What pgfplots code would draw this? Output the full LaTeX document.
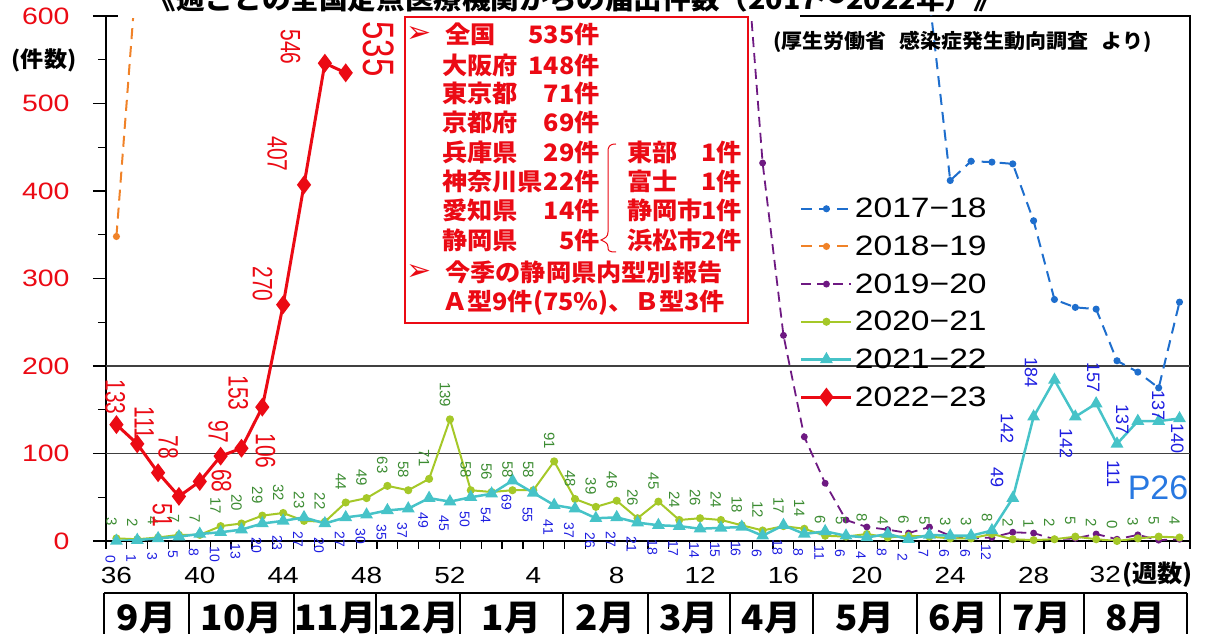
\documentclass[border=0pt]{standalone}
\usepackage{fontspec}
\usepackage{pgfplots}
\pgfplotsset{compat=1.18}
\setmainfont{Liberation Sans}[FakeStretch=1.2]
\newfontfamily\labfont{Liberation Sans}
\newfontfamily\narrowfont{Liberation Sans}[FakeStretch=0.75]
\newfontfamily\jp{Noto Sans CJK JP}[FakeStretch=1.05]
\newfontfamily\jpw{Noto Sans CJK JP}[FakeStretch=1.1]
\newfontfamily\dv{DejaVu Sans}
\newcommand\fs[1]{\fontsize{#1}{#1}\selectfont}
\definecolor{cRed}{RGB}{235,10,20}
\definecolor{cCyan}{RGB}{70,195,200}
\definecolor{cGreen}{RGB}{165,200,40}
\definecolor{cPurple}{RGB}{110,25,130}
\definecolor{cOrange}{RGB}{240,130,40}
\definecolor{cBlue}{RGB}{30,110,205}
\definecolor{lblBlue}{RGB}{30,30,225}
\definecolor{lblGreen}{RGB}{60,140,50}
\definecolor{pBlue}{RGB}{40,120,225}
\tikzset{
  blab/.style={font=\labfont\fs{14}, text=lblBlue, inner sep=0pt, xshift=-6pt, yshift=-14pt, rotate=-90, anchor=west},
  glab/.style={font=\labfont\fs{15}, text=lblGreen, inner sep=0pt, xshift=-5pt, yshift=12pt, rotate=-90, anchor=east},
  rlab/.style={font=\narrowfont\fs{28}, text=cRed, inner sep=0pt, rotate=-90},
  slab/.style={font=\labfont\fs{18}, text=lblBlue, inner sep=0pt, rotate=-90},
  boxt/.style={font=\jp\bfseries\fs{24}, text=cRed, inner sep=0pt},
}
\newcommand\BL[2]{\node[blab] at (axis cs:#1,#2) {#2};}
\newcommand\GL[2]{\node[glab] at (axis cs:#1,#2) {#2};}
\begin{document}
\begin{tikzpicture}
\begin{axis}[
  at={(106pt,93pt)}, anchor=south west,
  scale only axis, width=1084pt, height=525pt,
  xmin=-0.5, xmax=51.5, ymin=0, ymax=600,
  clip mode=individual,
  /pgf/number format/assume math mode=true,
  axis line style={black, line width=1.3pt},
  tick pos=left, tick align=outside,
  xtick={0,4,...,44},
  xticklabels={36,40,44,48,52,4,8,12,16,20,24,28},
  minor xtick={-0.5,0.5,...,51.5},
  major x tick style={draw=none},
  ytick={0,100,...,600},
  minor ytick={50,150,...,550},
  major tick length=13pt, minor tick length=8pt,
  tick style={black, line width=1.2pt},
  xticklabel style={font=\fs{23.3}, text=black, yshift=-10pt},
  yticklabel style={font=\fs{23.7}, text=cRed, xshift=-20pt},
  legend cell align=left,
  legend style={at={(rel axis cs:0.64,0.657)}, anchor=north west, draw=none, fill=none,
    font=\fs{28}, row sep=12.6pt, inner sep=0pt,
    /tikz/every even column/.append style={column sep=15pt}},
  legend image code/.code={\draw[mark repeat=2,mark phase=2] plot coordinates {(0pt,0pt) (25pt,0pt) (50pt,0pt)};},
]
\draw[black!75, line width=1.3pt] (axis cs:-0.5,100) -- (axis cs:51.5,100);
\draw[black!75, line width=1.3pt] (axis cs:-0.5,200) -- (axis cs:51.5,200);

% 2017-18
\addplot[cBlue, line width=2pt, dash pattern=on 11pt off 7pt, mark=*, mark size=2.5pt, mark options={solid}]
  coordinates {(38,900)(39,620)(40,412)(41,434)(42,433)(43,431)(44,366)(45,276)(46,267)(47,265)(48,206)(49,193)(50,175)(51,273)};
\addlegendentry{2017−18}
% 2018-19
\addplot[cOrange, line width=2pt, dash pattern=on 11pt off 7pt, mark=*, mark size=2.5pt, mark options={solid}]
  coordinates {(0,348)(1,660)};
\addlegendentry{2018−19}
% 2019-20
\addplot[cPurple, line width=1.8pt, dash pattern=on 10pt off 6pt, mark=*, mark size=2.5pt, mark options={solid}]
  coordinates {(30,740)(31,432)(32,235)(33,119)(34,66)(35,24)(36,16)(37,13)(38,9)(39,16)(40,6)(41,3)(42,4)(43,10)(44,9)(45,2)(46,3)(47,8)(48,2)(49,7)(50,1)(51,2)};
\addlegendentry{2019−20}
% 2020-21
\addplot[cGreen, line width=2pt, mark=*, mark size=3pt]
  coordinates {(0,3)(1,2)(2,4)(3,7)(4,7)(5,17)(6,20)(7,29)(8,32)(9,23)(10,22)(11,44)(12,49)(13,63)(14,58)(15,71)(16,139)
  (17,58)(18,56)(19,58)(20,58)(21,91)(22,48)(23,39)(24,46)(25,26)(26,45)(27,24)(28,26)(29,24)(30,18)(31,12)(32,17)(33,14)(34,6)
  (35,5)(36,8)(37,4)(38,6)(39,5)(40,3)(41,3)(42,8)(43,2)(44,1)(45,2)(46,5)(47,2)(48,0)(49,3)(50,5)(51,4)};
\addlegendentry{2020−21}
% 2021-22
\addplot[cCyan, line width=2.5pt, mark=triangle*, mark size=5pt]
  coordinates {(0,0)(1,1)(2,3)(3,5)(4,8)(5,10)(6,13)(7,20)(8,23)(9,27)(10,20)(11,27)(12,30)(13,35)(14,37)(15,49)(16,45)
  (17,50)(18,54)(19,69)(20,55)(21,41)(22,37)(23,26)(24,27)(25,21)(26,18)(27,17)(28,14)(29,15)(30,16)(31,6)(32,18)(33,8)(34,11)
  (35,6)(36,4)(37,8)(38,2)(39,7)(40,6)(41,6)(42,12)(43,49)(44,142)(45,184)(46,142)(47,157)(48,111)(49,137)(50,137)(51,140)};
\addlegendentry{2021−22}
% 2022-23
\addplot[cRed, line width=3pt, mark=diamond*, mark size=7pt]
  coordinates {(0,133)(1,111)(2,78)(3,51)(4,68)(5,97)(6,106)(7,153)(8,270)(9,407)(10,546)(11,535)};
\addlegendentry{2022−23}

% green labels (2020-21)
\GL{0}{3}\GL{1}{2}\GL{2}{4}\GL{3}{7}\GL{4}{7}\GL{5}{17}\GL{6}{20}\GL{7}{29}\GL{8}{32}\GL{9}{23}\GL{10}{22}\GL{11}{44}\GL{12}{49}\GL{13}{63}\GL{14}{58}\GL{15}{71}\GL{16}{139}
\GL{17}{58}\GL{18}{56}\GL{19}{58}\GL{20}{58}\GL{21}{91}\GL{22}{48}\GL{23}{39}\GL{24}{46}\GL{25}{26}\GL{26}{45}\GL{27}{24}\GL{28}{26}\GL{29}{24}\GL{30}{18}\GL{31}{12}\GL{32}{17}\GL{33}{14}\GL{34}{6}
\GL{35}{5}\GL{36}{8}\GL{37}{4}\GL{38}{6}\GL{39}{5}\GL{40}{3}\GL{41}{3}\GL{42}{8}\GL{43}{2}\GL{44}{1}\GL{45}{2}\GL{46}{5}\GL{47}{2}\GL{48}{0}\GL{49}{3}\GL{50}{5}\GL{51}{4}
% blue labels (2021-22)
\BL{0}{0}\BL{1}{1}\BL{2}{3}\BL{3}{5}\BL{4}{8}\BL{5}{10}\BL{6}{13}\BL{7}{20}\BL{8}{23}\BL{9}{27}\BL{10}{20}\BL{11}{27}\BL{12}{30}\BL{13}{35}\BL{14}{37}\BL{15}{49}\BL{16}{45}
\BL{17}{50}\BL{18}{54}\BL{19}{69}\BL{20}{55}\BL{21}{41}\BL{22}{37}\BL{23}{26}\BL{24}{27}\BL{25}{21}\BL{26}{18}\BL{27}{17}\BL{28}{14}\BL{29}{15}\BL{30}{16}\BL{31}{6}\BL{32}{18}\BL{33}{8}\BL{34}{11}
\BL{35}{6}\BL{36}{4}\BL{37}{8}\BL{38}{2}\BL{39}{7}\BL{40}{6}\BL{41}{6}\BL{42}{12}
\node[slab] at (axis cs:42.25,73.1) {49};
\node[slab] at (axis cs:42.73,129.1) {142};
\node[slab] at (axis cs:43.88,193.1) {184};
\node[slab] at (axis cs:45.56,110.9) {142};
\node[slab] at (axis cs:46.86,186.3) {157};
\node[slab] at (axis cs:47.82,76.6) {111};
\node[slab] at (axis cs:48.25,138.3) {137};
\node[slab] at (axis cs:49.98,155.4) {137};
\node[slab] at (axis cs:50.89,116.6) {140};
% red labels (2022-23)
\node[rlab] at (axis cs:-0.05,164.6) {133};
\node[rlab] at (axis cs:1.34,134.9) {111};
\node[rlab] at (axis cs:2.49,107.4) {78};
\node[rlab] at (axis cs:2.21,29.7) {51};
\node[rlab] at (axis cs:5.04,68.6) {68};
\node[rlab] at (axis cs:4.89,124.6) {97};
\node[rlab] at (axis cs:7.15,102.9) {106};
\node[rlab] at (axis cs:5.85,169.1) {153};
\node[rlab] at (axis cs:7.01,293.7) {270};
\node[rlab] at (axis cs:7.72,442.3) {407};
\node[rlab] at (axis cs:8.35,564.6) {546};
\node[rlab, font=\narrowfont\fs{44}] at (axis cs:12.57,562.3) {535};
\end{axis}

\begin{scope}[x=1pt, y=-1pt, yshift=634pt]
  % hide top frame behind title
  \fill[white] (118,12.5) rectangle (800,18.5);
  \node[font=\jpw\bfseries\fs{26}, anchor=base, inner sep=0pt] at (575,10) {《週ごとの全国定点医療機関からの届出件数（2017～2022年）》};
  \node[font=\jp\bfseries\fs{22}, anchor=base, inner sep=0pt] at (44,68) {(件数)};
  \node[font=\jp\bfseries\fs{20}, anchor=base west, inner sep=0pt] at (773,49) {(厚生労働省\hspace{13pt}感染症発生動向調査\hspace{13pt}より)};
  \node[font=\labfont\fs{34}, text=pBlue, inner sep=0pt] at (1158,488) {P26};
  % week 32 label with unit
  \node[font=\fs{23.3}, anchor=base east, inner sep=0pt] at (1121,583) {32};
  \node[font=\jp\bfseries\fs{24}, anchor=base west, inner sep=0pt] at (1122,583) {(週数)};
  % info box
  \draw[cRed, line width=1.2pt, fill=white] (405,17) rectangle (748,323);
  \node[font=\dv\fs{30}, text=cRed, anchor=west, inner sep=0pt] at (406,35) {➢};
  \node[font=\dv\fs{30}, text=cRed, anchor=west, inner sep=0pt] at (406,273) {➢};
  \node[boxt, anchor=base west] at (445,44) {全国};
  \node[boxt, anchor=base west] at (442,74.5) {大阪府};
  \node[boxt, anchor=base west] at (442,103) {東京都};
  \node[boxt, anchor=base west] at (442,132) {京都府};
  \node[boxt, anchor=base west] at (442,161.5) {兵庫県};
  \node[boxt, anchor=base west] at (442,191) {神奈川県};
  \node[boxt, anchor=base west] at (442,220) {愛知県};
  \node[boxt, anchor=base west] at (442,250) {静岡県};
  \node[boxt, anchor=base east] at (600,44) {535件};
  \node[boxt, anchor=base east] at (600,74.5) {148件};
  \node[boxt, anchor=base east] at (600,103) {71件};
  \node[boxt, anchor=base east] at (600,132) {69件};
  \node[boxt, anchor=base east] at (600,161.5) {29件};
  \node[boxt, anchor=base east] at (600,191) {22件};
  \node[boxt, anchor=base east] at (600,220) {14件};
  \node[boxt, anchor=base east] at (600,250) {5件};
  \node[boxt, anchor=base west] at (627,161.5) {東部};
  \node[boxt, anchor=base west] at (627,191) {富士};
  \node[boxt, anchor=base west] at (627,220) {静岡市};
  \node[boxt, anchor=base west] at (627,250) {浜松市};
  \node[boxt, anchor=base east] at (742,161.5) {1件};
  \node[boxt, anchor=base east] at (742,191) {1件};
  \node[boxt, anchor=base east] at (742,220) {1件};
  \node[boxt, anchor=base east] at (742,250) {2件};
  \node[boxt, anchor=base west] at (445,282) {今季の静岡県内型別報告};
  \node[boxt, anchor=base west] at (442,311) {Ａ型9件(75\%)、Ｂ型3件};
  \draw[cRed, line width=1pt] (616,144) .. controls (609,144) and (608,147) .. (608,152) -- (608,232)
     .. controls (608,237) and (605,238) .. (601,240) .. controls (605,242) and (608,243) .. (608,247)
     .. controls (608,251) and (609,252) .. (616,252);
  % month table
  \draw[line width=1.8pt] (104,593) -- (1187,593);
  \foreach \x in {104,189,294,376,460,563,648,730,813,917,1000,1084,1187}
    \draw[line width=1.8pt] (\x,593) -- (\x,640);
  \foreach \x/\m in {146.5/9,241.5/10,335/11,418/12,511.5/1,605.5/2,689/3,771.5/4,865/5,958.5/6,1042/7,1135.5/8}
    \node[font=\jp\bfseries\fs{35}, anchor=base, inner sep=0pt] at (\x,631) {\m 月};
\end{scope}
\pgfresetboundingbox
\path[use as bounding box] (0,0) rectangle (1221pt,634pt);
\end{tikzpicture}
\end{document}
